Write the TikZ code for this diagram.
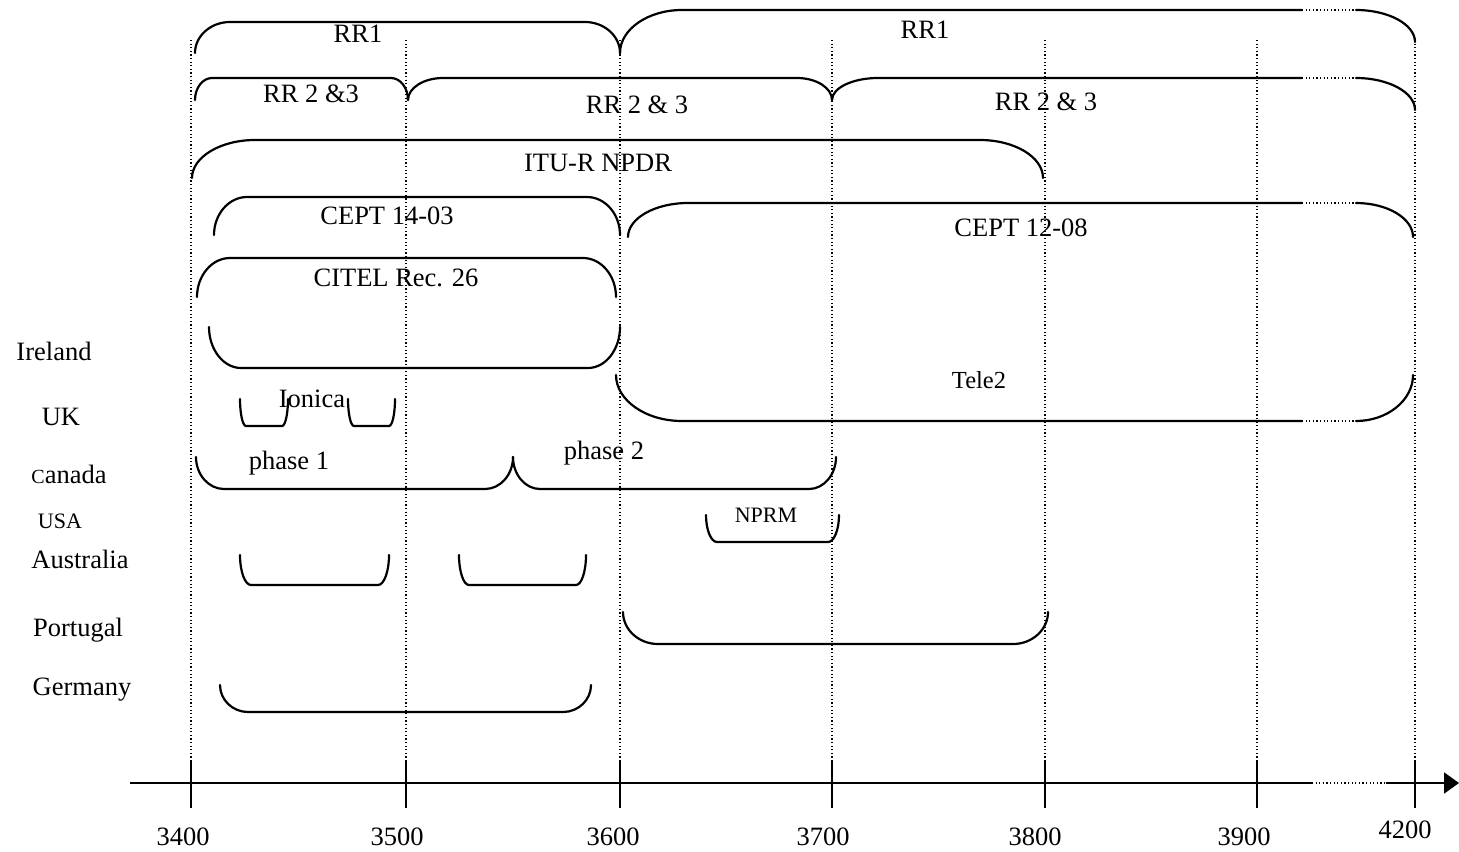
\documentclass[tikz,border=0pt]{standalone}
\usepackage{fontspec}
\setmainfont{Liberation Serif}
\usetikzlibrary{arrows.meta}
\newcommand\FsMain{\fontsize{13.25}{15}\selectfont}
\newcommand\FsSmall{\fontsize{11}{13}\selectfont}
\newcommand\FsTele{\fontsize{12.25}{14}\selectfont}
% top brace: xl, xr, ytop, yend, corner width
\newcommand\TopBr[5]{\draw[br] (#1,#4) .. controls (#1,{#4-0.55*(#4-#3)}) and ({#1+0.45*#5},#3) .. ({#1+#5},#3) -- ({#2-#5},#3) .. controls ({#2-0.45*#5},#3) and (#2,{#4-0.55*(#4-#3)}) .. (#2,#4);}
% bottom brace: xl, xr, yend, ybottom, corner width
\newcommand\BotBr[5]{\draw[br] (#1,#3) .. controls (#1,{#3+0.55*(#4-#3)}) and ({#1+0.45*#5},#4) .. ({#1+#5},#4) -- ({#2-#5},#4) .. controls ({#2-0.45*#5},#4) and (#2,{#3+0.55*(#4-#3)}) .. (#2,#3);}
% top brace with dotted gap: xl, yend-left, ytop, xr, yend-right, left corner
\newcommand\TopBrGap[6]{%
 \draw[br] (#1,#2) .. controls (#1,{#2-0.55*(#2-#3)}) and ({#1+0.45*#6},#3) .. ({#1+#6},#3) -- (1302,#3);
 \draw[dots] (1302,#3) -- (1356,#3);
 \draw[br] (1356,#3) .. controls ({1356+0.55*(#4-1356)},#3) and (#4,{#5-0.55*(#5-#3)}) .. (#4,#5);}
% bottom brace with dotted gap: xl, yend, ybottom, xr, left corner
\newcommand\BotBrGap[5]{%
 \draw[br] (#1,#2) .. controls (#1,{#2+0.55*(#3-#2)}) and ({#1+0.45*#5},#3) .. ({#1+#5},#3) -- (1302,#3);
 \draw[dots] (1302,#3) -- (1356,#3);
 \draw[br] (1356,#3) .. controls ({1356+0.55*(#4-1356)},#3) and (#4,{#2+0.55*(#3-#2)}) .. (#4,#2);}
\begin{document}
\begin{tikzpicture}[x=0.5pt,y=-0.5pt,
  br/.style={line width=1.1pt,line cap=round},
  dots/.style={line width=0.6pt,dash pattern=on 0.6pt off 1.2pt},
  lab/.style={font=\FsMain,inner sep=0pt,anchor=base},
  slab/.style={font=\FsSmall,inner sep=0pt,anchor=base},
  tick/.style={line width=0.8pt}]
\useasboundingbox (0,0) rectangle (1459,851);
% dotted verticals and ticks
\foreach \x in {191,406,620,832,1045,1257,1415}{
  \draw[dots] (\x,40) -- (\x,762);
  \draw[tick] (\x,760) -- (\x,808);
}
% axis
\coordinate (ax0) at (130,783);
\coordinate (axd1) at (1312,783);
\coordinate (axd2) at (1386,783);
\coordinate (ax1) at (1459,783);
\draw[line width=1pt] (ax0) -- (axd1);
\draw[dots] (axd1) -- (axd2);
\draw[line width=1pt,-{Triangle[length=7.5pt,width=10.5pt]}] (axd2) -- (ax1);
% tick labels
\node[lab] (t34) at (183,845) {3400};
\node[lab] (t35) at (397,845) {3500};
\node[lab] (t36) at (613,845) {3600};
\node[lab] (t37) at (823,845) {3700};
\node[lab] (t38) at (1035,845) {3800};
\node[lab] (t39) at (1244,845) {3900};
\node[lab] (t42) at (1405,838) {4200};
% RR1
\TopBr{195}{620}{22}{53}{35}
\TopBrGap{620}{53}{10}{1415}{42}{62}
\node[lab] (rr1a) at (358,42) {RR1};
\node[lab] (rr1b) at (925,38) {RR1};
% RR 2 & 3
\TopBr{195}{408}{78}{100}{17}
\TopBr{408}{832}{78}{100}{35}
\TopBrGap{832}{100}{78}{1415}{110}{46}
\node[lab] (rr2a) at (311,102) {RR 2 \&3};
\node[lab] (rr2b) at (637,113) {RR 2 \& 3};
\node[lab] (rr2c) at (1046,110) {RR 2 \& 3};
% ITU-R NPDR
\TopBr{192}{1043}{140}{178}{63}
\node[lab] (itu) at (598,171) {ITU-R NPDR};
% CEPT
\TopBr{214}{620}{197}{235}{33}
\node[lab] (cepta) at (387,224) {CEPT 14-03};
\TopBrGap{628}{237}{203}{1413}{237}{60}
\node[lab] (ceptb) at (1021,236) {CEPT 12-08};
% CITEL
\TopBr{197}{616}{258}{297}{33}
\node[lab] (citel) at (396,286) {CITEL Rec. 26};
% Ireland
\BotBr{209}{620}{327}{368}{32}
\node[lab] (ireland) at (54,360) {Ireland};
% Tele2
\BotBrGap{616}{375}{421}{1413}{66}
\node[lab,font=\FsTele] (tele2) at (979,388) {Tele2};
% UK
\BotBr{240}{288}{399}{426}{6}
\BotBr{348}{395}{399}{426}{6}
\node[lab] (ionica) at (312,407) {Ionica};
\node[lab] (uk) at (61,425) {UK};
% Canada
\BotBr{196}{513}{457}{489}{28}
\BotBr{513}{836}{457}{489}{27}
\node[lab] (ph1) at (289,469) {phase 1};
\node[lab] (ph2) at (604,459) {phase 2};
\node[lab] (canada) at (69,483) {{\fontsize{10}{10}\selectfont C}anada};
% USA
\BotBr{706}{839}{515}{542}{11}
\node[slab] (nprm) at (766,522) {NPRM};
\node[slab] (usa) at (60,528) {USA};
% Australia
\BotBr{240}{389}{555}{585}{11}
\BotBr{459}{586}{555}{585}{10}
\node[lab] (australia) at (80,568) {Australia};
% Portugal
\BotBr{623}{1048}{612}{644}{35}
\node[lab] (portugal) at (78,636) {Portugal};
% Germany
\BotBr{220}{591}{685}{712}{28}
\node[lab] (germany) at (82,695) {Germany};
\end{tikzpicture}
\end{document}
